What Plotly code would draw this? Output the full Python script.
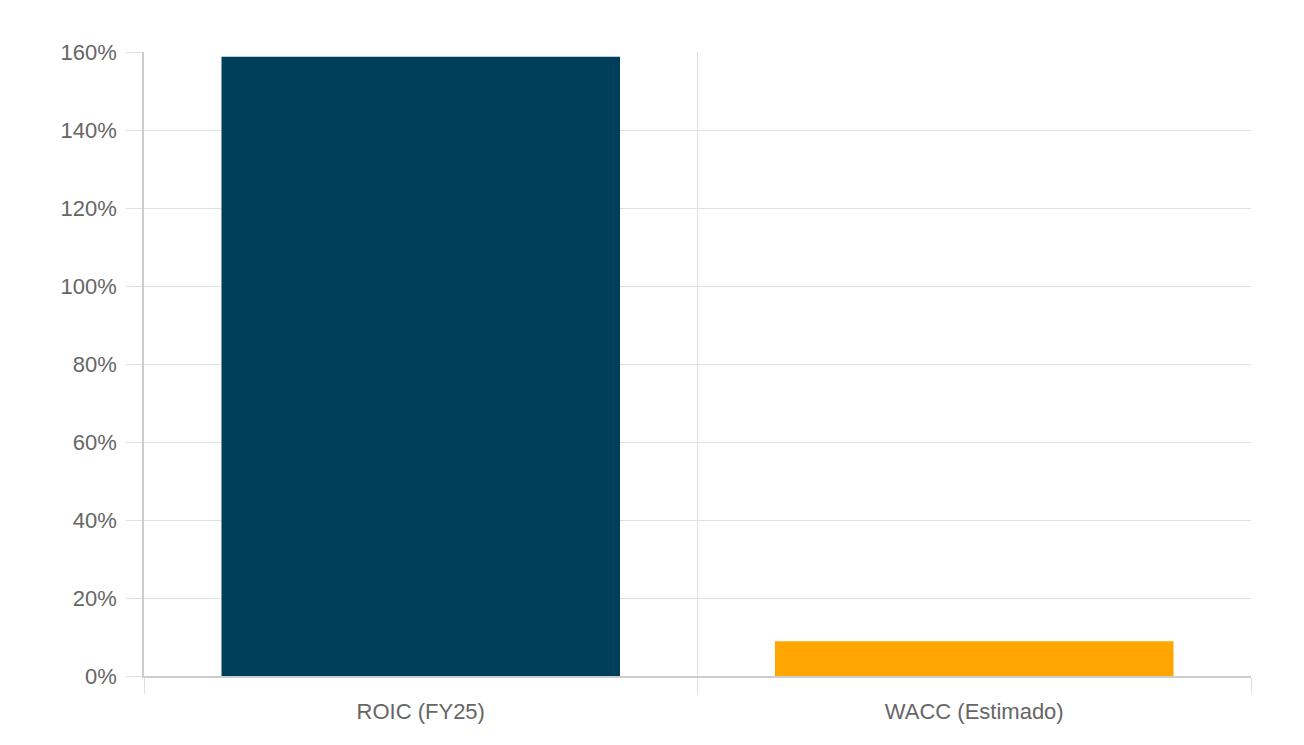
import plotly.graph_objects as go

categories = ["ROIC (FY25)", "WACC (Estimado)"]
values = [158.8, 8.9]
colors = ["#003f5c", "#ffa600"]
y_ticks = [0, 20, 40, 60, 80, 100, 120, 140, 160]
y_tick_labels = [f"{v}%" for v in y_ticks]

fig = go.Figure(
    go.Bar(
        x=categories,
        y=values,
        marker=dict(color=colors, line=dict(width=0)),
        hoverinfo="skip",
    )
)

font = dict(family="Liberation Sans, Arial, sans-serif", size=22, color="#666666")

fig.update_layout(
    width=1288,
    height=729,
    margin=dict(l=136, r=45, t=44, b=61),
    paper_bgcolor="white",
    plot_bgcolor="white",
    bargap=0.28,
    showlegend=False,
    font=font,
)

fig.update_xaxes(
    type="category",
    tickson="boundaries",
    showgrid=True,
    gridcolor="#e0e0e0",
    gridwidth=1,
    ticks="outside",
    ticklen=16,
    tickcolor="#e0e0e0",
    showline=True,
    linecolor="#cccccc",
    linewidth=1.5,
    tickfont=font,
    ticklabelstandoff=15,
    zeroline=False,
)

fig.update_yaxes(
    range=[0, 160],
    tickvals=y_ticks,
    ticktext=y_tick_labels,
    showgrid=True,
    gridcolor="#e0e0e0",
    gridwidth=1,
    ticks="outside",
    ticklen=16,
    tickcolor="#e0e0e0",
    showline=True,
    linecolor="#cccccc",
    linewidth=1.5,
    tickfont=font,
    ticklabelstandoff=5,
    zeroline=False,
)

fig.write_html("out.html")
